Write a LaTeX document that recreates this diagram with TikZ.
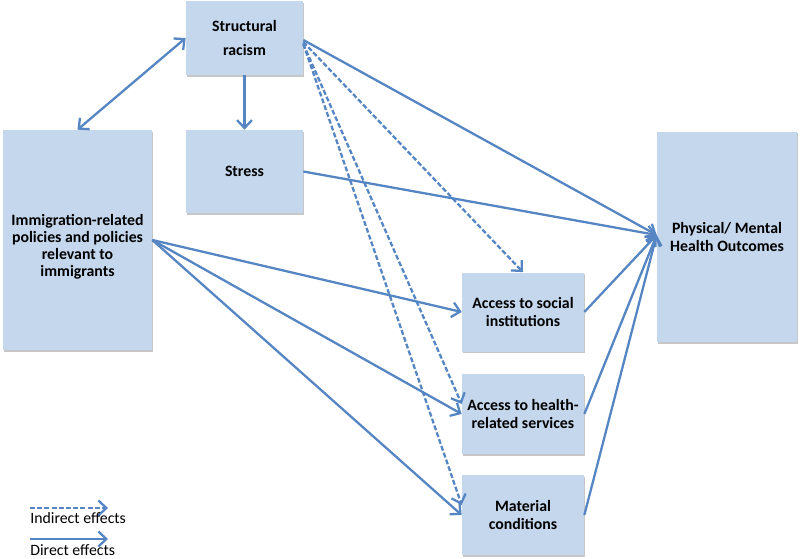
\documentclass[tikz,border=0pt]{standalone}
\usepackage{fontspec}
\setmainfont{Carlito}
\usetikzlibrary{arrows.meta,shadows}
\definecolor{boxfill}{HTML}{C5D7EC}
\definecolor{arrowcol}{HTML}{5585C2}
\begin{document}
\begin{tikzpicture}[x=0.02cm,y=-0.02cm,
  boxshape/.style={rectangle,fill=boxfill,draw=none,align=center,inner sep=2pt,
    font=\fontsize{9}{9.7}\selectfont\bfseries,
    drop shadow={shadow xshift=0.3pt,shadow yshift=-0.9pt,fill=black,opacity=0.22}},
  boxtext/.style={align=center,inner sep=0pt,font=\fontsize{9}{9.7}\selectfont\bfseries},
  conn/.style={draw=arrowcol,line width=1.3pt,-{Straight Barb[length=4.5pt,width=8.5pt]}},
  biconn/.style={draw=arrowcol,line width=1.3pt,{Straight Barb[length=4.5pt,width=8.5pt]}-{Straight Barb[length=4.5pt,width=8.5pt]}},
  dconn/.style={conn,dash pattern=on 2.8pt off 1.3pt},
  legtext/.style={anchor=west,inner sep=0pt,font=\fontsize{9}{10}\selectfont}
]
\useasboundingbox (0,0) rectangle (800,558);

\node[boxshape,minimum width=2.34cm,minimum height=1.48cm] (sr) at (244.5,38) {Structural\\[4pt]racism};
\node[boxshape,minimum width=2.34cm,minimum height=1.66cm] (stress) at (244.5,171.5) {Stress};
\node[boxshape,minimum width=2.98cm,minimum height=4.4cm] (imm) at (77.5,240) {};
\node[boxtext] (immtext) at (77.5,247)
  {Immigration-related\\policies and policies\\relevant to\\immigrants};
\node[boxshape,minimum width=2.8cm,minimum height=4.22cm] (phys) at (727,237) {Physical/ Mental\\Health Outcomes};
\node[boxshape,minimum width=2.44cm,minimum height=1.58cm] (social) at (523,312) {Access to social\\institutions};
\node[boxshape,minimum width=2.44cm,minimum height=1.6cm] (health) at (523,414) {Access to health-\\related services};
\node[boxshape,minimum width=2.44cm,minimum height=1.6cm] (material) at (523,515) {Material\\conditions};

% connectors
\draw[biconn] (imm.north) -- (sr.west);
\draw[conn] (sr.south) -- (stress.north);
\draw[conn] ([yshift=-0.04cm]sr.east) -- ([yshift=0.04cm]phys.west);
\draw[conn] (stress.east) -- ([yshift=0.04cm]phys.west);
\draw[conn] (social.east) -- ([yshift=0.04cm]phys.west);
\draw[conn] (health.east) -- ([yshift=0.04cm]phys.west);
\draw[conn] (material.east) -- ([yshift=0.04cm]phys.west);
\draw[conn] (imm.east) -- (social.west);
\draw[conn] (imm.east) -- (health.west);
\draw[conn] (imm.east) -- (material.west);
\draw[dconn] ([yshift=-0.08cm]sr.east) -- (social.north);
\draw[dconn] ([yshift=-0.12cm]sr.east) -- ([yshift=0.2cm]health.west);
\draw[dconn] ([yshift=-0.12cm]sr.east) -- ([yshift=0.2cm]material.west);

% legend
\coordinate (l1a) at (30,508);
\coordinate (l1b) at (108,508);
\coordinate (l2a) at (30,539);
\coordinate (l2b) at (108,539);
\draw[dconn] (l1a) -- (l1b);
\draw[conn] (l2a) -- (l2b);
\node[legtext] (lt1) at (30,518) {Indirect effects};
\node[legtext] (lt2) at (30,550) {Direct effects};
\end{tikzpicture}
\end{document}
